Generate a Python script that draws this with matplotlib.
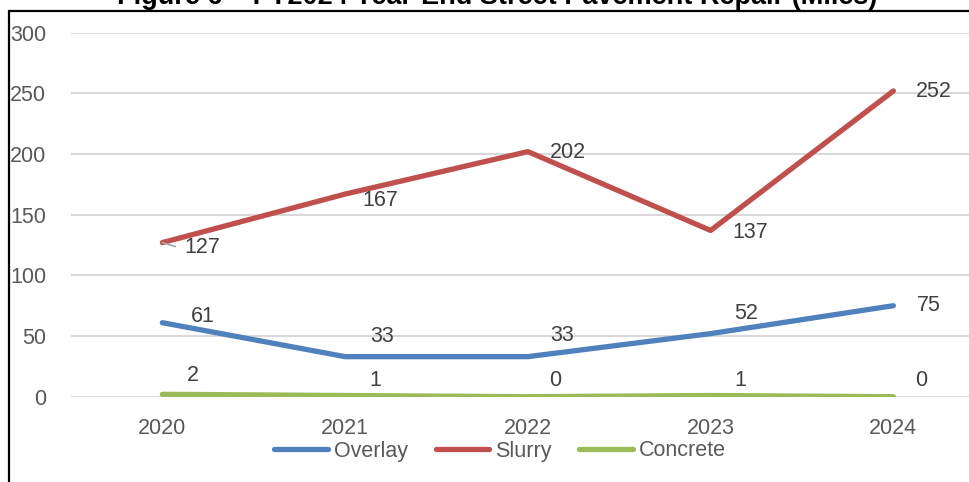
import matplotlib
matplotlib.use("Agg")
import matplotlib.pyplot as plt
from matplotlib.patches import Rectangle

# chart data
years = ["2020", "2021", "2022", "2023", "2024"]
overlay = [61, 33, 33, 52, 75]
slurry = [127, 167, 202, 137, 252]
concrete = [2, 1, 0, 1, 0]

# label offsets (pixels, dx, dy up)
overlay_off = [(40, 6), (37, 20), (34, 21), (35, 20), (35, 0)]
slurry_off = [(40, -5), (35, -6), (40, -1), (40, -2), (40, -1)]
concrete_off = [(31, 19), (30, 15), (27, 16), (30, 15), (28, 16)]

title = "Figure 6 \u2013 FY2024 Year-End Street Pavement Repair (Miles)"

plt.rcParams["font.family"] = ["Liberation Sans", "DejaVu Sans"]
FS = 15.5

W, H = 970, 482
fig = plt.figure(figsize=(W / 100, H / 100), dpi=100)

left, right = 71 / W, 1.0
bottom, top = 1 - 396.7 / H, 1 - 32.7 / H
ax = fig.add_axes([left, bottom, right - left, top - bottom])

x = list(range(len(years)))
series = [
    ("Overlay", overlay, "#4F81BD", overlay_off),
    ("Slurry", slurry, "#C0504D", slurry_off),
    ("Concrete", concrete, "#9BBB59", concrete_off),
]
for name, vals, col, offs in series:
    ax.plot(x, vals, color=col, lw=3.8, solid_capstyle="round", label=name, zorder=3)
    for xi, v, (dx, dy) in zip(x, vals, offs):
        ax.annotate(str(v), (xi, v), xytext=(dx * 0.72, dy * 0.72),
                    textcoords="offset points", ha="center", va="center",
                    fontsize=FS, color="#404040", zorder=4)

# leader line for the 127 label
ax.annotate("", (0, slurry[0]), xytext=(13 * 0.72, -4 * 0.72), textcoords="offset points",
            arrowprops=dict(arrowstyle="-", color="#A6A6A6", lw=1.2, shrinkA=0, shrinkB=0))

px_per_cat = (893 - 162) / 4
ax.set_xlim(-0.5, -0.5 + (W - 71) / px_per_cat)
ax.set_ylim(0, 300)
ax.set_yticks(range(0, 301, 50))
ax.set_xticks(x)
ax.set_xticklabels(years)
ax.yaxis.grid(True, color="#D9D9D9", lw=1.5, zorder=0)
ax.set_axisbelow(True)
for s in ax.spines.values():
    s.set_visible(False)
ax.tick_params(axis="both", length=0, labelsize=FS, colors="#595959")
ax.tick_params(axis="y", pad=18)
ax.tick_params(axis="x", pad=15)

fig.legend(loc="center", bbox_to_anchor=(500 / W, 1 - 451 / H), ncol=3, frameon=False,
           fontsize=FS, handlelength=2.5, handletextpad=0.25, columnspacing=1.3,
           labelcolor="#595959", borderpad=0.1)

# chart border (cut off at the right and bottom)
fig.patches.append(Rectangle((9 / W, -0.1), 1.2, 1.1 - 10.5 / H, transform=fig.transFigure,
                             fill=False, edgecolor="black", lw=1.6, zorder=10))

fig.text(497 / W, 1 - 4 / H, title, ha="center", va="baseline", fontsize=19.5,
         fontweight="bold", color="black")

fig.savefig("out.png", dpi=100)
